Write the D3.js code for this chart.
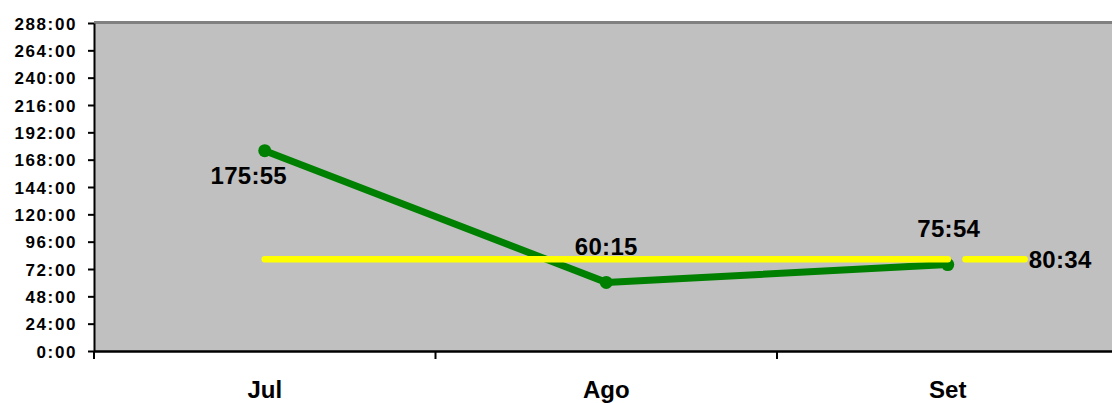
<!DOCTYPE html>
<html>
<head>
<meta charset="utf-8">
<script src="https://cdn.jsdelivr.net/npm/d3@7"></script>
<style>
  html, body { margin: 0; padding: 0; background: #fff; }
  svg { display: block; }
  text { font-family: "Liberation Sans", Arial, sans-serif; font-weight: bold; fill: #000; }
</style>
</head>
<body>
<svg id="chart" width="1112" height="403"></svg>
<script>
// ---- data ----
const categories = ["Jul", "Ago", "Set"];
const horasLabels = ["175:55", "60:15", "75:54"];
const mediaLabel = "80:34";
const yTickValues = [0, 24, 48, 72, 96, 120, 144, 168, 192, 216, 240, 264, 288];

function toHours(s) { const [h, m] = s.split(":").map(Number); return h + m / 60; }
const horas = horasLabels.map(toHours);
const media = toHours(mediaLabel);

// ---- layout ----
const svg = d3.select("#chart");
const mLeft = 94, mRight = 1118.5, mTop = 23, mBottom = 351;

const x = d3.scaleBand().domain(categories).range([mLeft, mRight]).paddingInner(0).paddingOuter(0);
const y = d3.scaleLinear().domain([0, 288]).range([mBottom, mTop]);
const cx = d => x(d) + x.bandwidth() / 2;

// plot area
svg.append("rect").attr("x", mLeft).attr("y", mTop).attr("width", mRight - mLeft).attr("height", mBottom - mTop).attr("fill", "#C0C0C0");
svg.append("line").attr("x1", mLeft).attr("x2", mRight).attr("y1", mTop - 0.5).attr("y2", mTop - 0.5)
  .attr("stroke", "#808080").attr("stroke-width", 3);

// y axis
const yAxis = d3.axisLeft(y).tickValues(yTickValues).tickSize(6).tickSizeOuter(0)
  .tickFormat(d => d + ":00");
const gy = svg.append("g").attr("transform", `translate(${mLeft},0)`).call(yAxis);
gy.select(".domain").attr("stroke", "#000").attr("stroke-width", 2);
gy.selectAll(".tick line").attr("stroke", "#000").attr("stroke-width", 2);
gy.selectAll(".tick text").attr("x", -17).attr("dy", "0.36em")
  .style("font-size", "17px").style("letter-spacing", "1.6px")
  .style("font-family", '"Liberation Sans", Arial, sans-serif').style("font-weight", "bold").attr("fill", "#000");

// x axis
const gx = svg.append("g").attr("transform", `translate(0,${mBottom})`)
  .call(d3.axisBottom(x).tickSize(0).tickSizeOuter(0));
gx.select(".domain").attr("stroke", "#000").attr("stroke-width", 2.5);
gx.selectAll(".tick text").attr("y", 0).attr("dy", "47px")
  .style("font-size", "24px")
  .style("font-family", '"Liberation Sans", Arial, sans-serif').style("font-weight", "bold").attr("fill", "#000");
// category boundary ticks
const bounds = categories.map(c => x(c));
svg.append("g").selectAll("line").data(bounds).join("line")
  .attr("x1", d => d).attr("x2", d => d).attr("y1", mBottom).attr("y2", mBottom + 8)
  .attr("stroke", "#000").attr("stroke-width", 2);

// green series
const line = d3.line().x((d, i) => cx(categories[i])).y(d => y(d));
svg.append("path").datum(horas).attr("d", line).attr("fill", "none")
  .attr("stroke", "#008000").attr("stroke-width", 7).attr("stroke-linejoin", "round");
svg.append("g").selectAll("circle").data(horas).join("circle")
  .attr("cx", (d, i) => cx(categories[i])).attr("cy", d => y(d)).attr("r", 6.5).attr("fill", "#008000");

// yellow average line
const mediaSeries = categories.map(() => media);
svg.append("path").datum(mediaSeries).attr("d", line).attr("fill", "none")
  .attr("stroke", "#FFFF00").attr("stroke-width", 6.5).attr("stroke-linecap", "round");
const setX = cx(categories[categories.length - 1]);
svg.append("line").attr("x1", setX + x.bandwidth() * 0.052).attr("x2", setX + x.bandwidth() * 0.225)
  .attr("y1", y(media)).attr("y2", y(media))
  .attr("stroke", "#FFFF00").attr("stroke-width", 6.5).attr("stroke-linecap", "round");

// data labels
const labelOffsets = [[-16, 33], [0, -27], [1, -28]];
svg.append("g").selectAll("text").data(horas).join("text")
  .attr("x", (d, i) => cx(categories[i]) + labelOffsets[i][0])
  .attr("y", (d, i) => y(d) + labelOffsets[i][1])
  .attr("text-anchor", "middle").style("font-size", "24px").style("letter-spacing", "0.3px")
  .text((d, i) => horasLabels[i]);
svg.append("text").attr("x", setX + x.bandwidth() * 0.237).attr("y", y(media) + 9)
  .style("font-size", "24px").style("letter-spacing", "0.3px").text(mediaLabel);
</script>
</body>
</html>
